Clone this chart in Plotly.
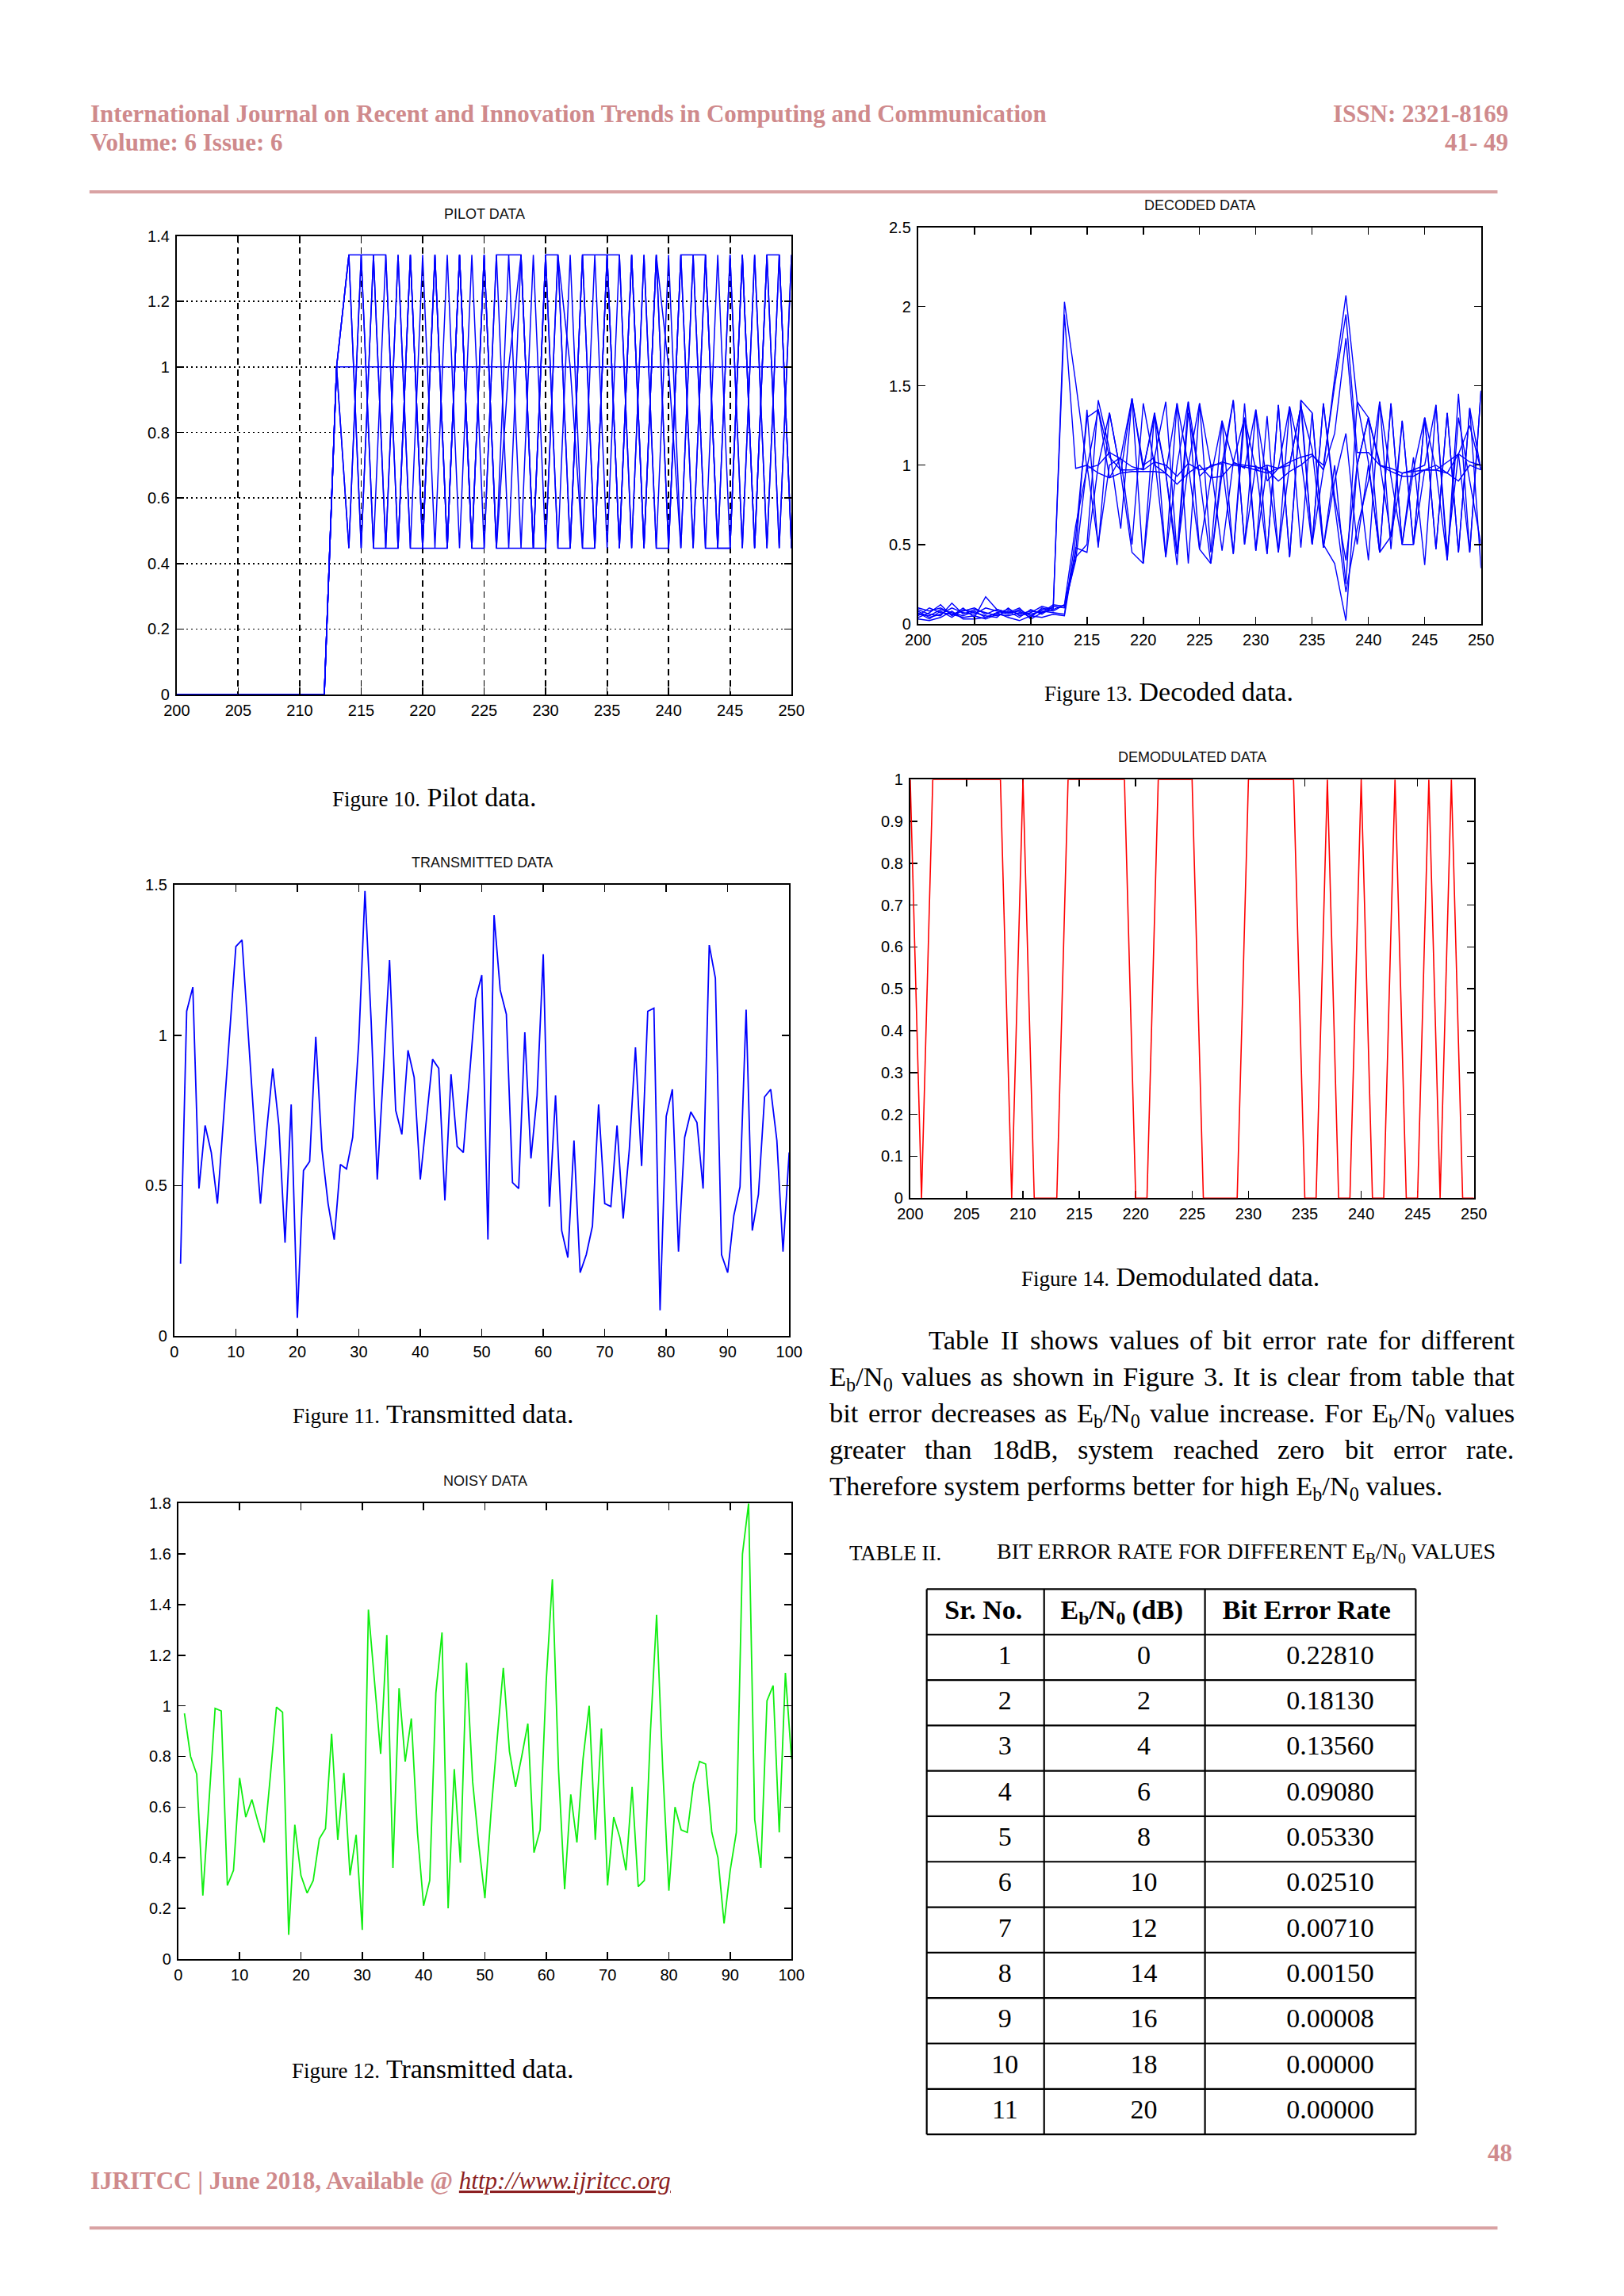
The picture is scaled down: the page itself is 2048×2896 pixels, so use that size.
import plotly.graph_objects as go

# page geometry (reference pixels); the browser adds an 8px body margin
PAGE_W, PAGE_H = 2048, 2896
OFF = 8
FW, FH = PAGE_W - 2 * OFF, PAGE_H - 2 * OFF
# small empirical correction between intended and photographed positions
SX, DX, DY = 1.0083, -15.6, -9.3

SERIF = "Liberation Serif, Times New Roman, serif"
SANS = "Liberation Sans, Arial, Helvetica, sans-serif"
PINK = "#cf8a8c"
URLRED = "#8c1f22"

# ---------------- chart data ----------------
PH, PL, PM = 1.342, 0.447, 1.0   # pilot amplitude levels

pilot_x = list(range(200, 251))
pilot_a = [0, 0, 0, 0, 0, 0, 0, 0, 0, 0, 0, 0, 0, PM,
           PH, PH, PH, PH, PL, PH, PL, PH, PL, PH,
           PL, PH, PL, PH, PL, PH, PL, PH, PL, PH,
           PH, PH, PH, PL, PH, PL, PH, PL, PH, PL,
           PH, PL, PH, PL, PH, PL, PH]
pilot_b = [0, 0, 0, 0, 0, 0, 0, 0, 0, 0, 0, 0, 0, PM,
           PH, PL, PH, PL, PH, PL, PH, PL, PH, PL,
           PH, PL, PH, PH, PH, PL, PH, PL, PH, PL,
           PH, PL, PH, PL, PH, PL, PL, PH, PH, PH,
           PL, PH, PL, PH, PL, PH, PL]
pilot_c = [0, 0, 0, 0, 0, 0, 0, 0, 0, 0, 0, 0, 0, PM,
           PL, PH, PL, PH, PL, PH, PL, PH, PL, PH,
           PL, PH, PL, PM, PH, PL, PH, PH, PL, PH,
           PL, PH, PL, PH, PL, PH, PL, PH, PL, PH,
           PL, PL, PH, PL, PH, PH, PL]
pilot_d = [0, 0, 0, 0, 0, 0, 0, 0, 0, 0, 0, 0, 0, PM,
           PL, PH, PL, PL, PL, PH, PL, PH, PL, PH,
           PL, PL, PH, PL, PH, PL, PH, PL, PL, PH,
           PL, PH, PL, PH, PL, PH, PM, PL, PH, PL,
           PL, PL, PH, PL, PH, PL, PH]
pilot_e = [0, 0, 0, 0, 0, 0, 0, 0, 0, 0, 0, 0, 0, PM,
           PH, PL, PH, PL, PH, PL, PL, PL, PL, PH,
           PL, PH, PL, PL, PL, PL, PL, PH, PM, PL,
           PL, PH, PL, PH, PL, PH, PL, PH, PL, PH,
           PL, PH, PL, PH, PL, PH, PL]
pilot_f = [0, 0, 0, 0, 0, 0, 0, 0, 0, 0, 0, 0, 0,
           PM, PM, PM, PM, PM, PM, PM, PM, PM, PM, PM, PM, PM,
           PM, PM, PM, PM, PM, PM, PM, PM, PM, PM, PM, PM, PM,
           PM, PM, PM, PM, PM, PM, PM, PM, PM, PM, PM, PM, PM]
pilot_series = [pilot_a, pilot_b, pilot_c, pilot_d, pilot_e, pilot_f]

decoded_x = list(range(200, 251))
dec_1 = [.06, .05, .09, .07, .05, .08, .04, .07, .09, .06, .08, .07, .09, 2.03,
         1.52, 0.98, 1.0, 1.08, 1.04, 0.99, 0.97, 1.02, 1.0, 0.93, 1.01, 0.97, 0.99,
         1.02, 1.0, 0.99, 0.97, 0.95, 0.98, 1.02, 1.05, 1.07, 0.97, 1.55, 2.07, 1.40,
         1.30, 1.0, 0.98, 0.95, 0.96, 0.97, 0.97, 0.95, 0.90, 1.0, 0.97]
dec_2 = [.08, .04, .06, .10, .07, .06, .10, .08, .06, .09, .05, .09, .10, 1.95,
         0.98, 1.0, 0.95, 0.92, 0.95, 0.96, 0.96, 0.96, 0.95, 0.88, 0.95, 1.0, 0.92,
         0.93, 1.01, 1.0, 0.99, 0.97, 0.90, 0.96, 1.0, 1.06, 1.0, 1.5, 1.95, 1.08,
         1.08, 1.0, 0.96, 0.93, 0.93, 0.97, 0.97, 1.02, 1.07, 1.02, 1.0]
dec_3 = [.04, .07, .12, .05, .10, .04, .17, .09, .07, .08, .04, .10, .08, 0.12,
         0.45, 1.35, 0.48, 1.33, 0.95, 0.45, 0.38, 1.33, 0.42, 1.39, 0.38, 1.39, 0.45,
         1.28, 0.44, 1.39, 0.46, 1.31, 0.45, 1.37, 0.48, 1.33, 0.5, 0.38, 0.02, 1.0,
         1.3, 0.45, 1.39, 0.5, 1.05, 0.37, 1.38, 0.4, 1.45, 0.45, 1.47]
dec_4 = [.09, .06, .05, .13, .06, .09, .07, .05, .08, .04, .09, .06, .11, 0.10,
         0.42, 0.5, 1.41, 1.1, 0.6, 1.42, 1.0, 1.05, 1.4, 0.44, 1.4, 0.47, 0.38,
         0.95, 1.41, 0.5, 1.35, 0.44, 1.38, 0.42, 1.41, 0.5, 1.39, 0.75, 0.2, 0.6,
         0.9, 1.4, 0.47, 1.28, 0.5, 1.3, 0.47, 1.33, 0.45, 1.36, 0.35]
dec_5 = [.05, .10, .07, .06, .04, .05, .03, .06, .05, .07, .06, .08, .07, 0.06,
         0.55, 1.3, 1.35, 0.92, 1.05, 0.5, 1.39, 1.0, 0.95, 0.37, 1.33, 0.93, 1.0,
         1.01, 0.44, 1.3, 0.97, 1.0, 0.98, 1.0, 1.37, 1.1, 0.48, 1.0, 0.25, 1.4,
         1.02, 0.45, 0.55, 0.95, 0.97, 1.0, 1.38, 0.45, 1.07, 1.25, 0.97]
dec_6 = [.07, .03, .08, .04, .09, .07, .05, .04, .10, .05, .07, .11, .09, 0.12,
         0.62, 0.98, 1.35, 1.05, 0.97, 0.97, 0.98, 1.3, 0.95, 1.39, 1.0, 0.47, 0.92,
         1.28, 1.02, 0.98, 1.35, 0.90, 0.98, 1.37, 1.05, 0.5, 0.97, 1.2, 1.8, 1.0,
         0.4, 1.4, 0.93, 0.5, 0.97, 1.3, 0.97, 0.4, 1.3, 0.9, 0.5]
dec_7 = [.03, .02, .04, .08, .03, .03, .04, .07, .04, .02, .05, .04, .06, 0.05,
         0.48, 0.45, 1.0, 1.33, 0.95, 1.42, 0.38, 1.05, 0.42, 1.0, 1.4, 0.93, 0.38,
         1.01, 1.41, 0.5, 1.0, 0.44, 1.38, 0.42, 1.41, 1.33, 0.48, 0.9, 1.2, 0.5,
         1.0, 0.45, 1.39, 0.5, 0.5, 1.3, 0.47, 1.33, 0.45, 1.36, 0.97]
dec_8 = [.10, .08, .10, .06, .08, .10, .06, .09, .07, .10, .03, .07, .12, 0.11,
         0.40, 1.0, 0.5, 1.0, 1.05, 1.42, 0.97, 1.33, 0.95, 0.44, 1.0, 1.39, 1.0,
         0.46, 1.02, 1.3, 0.46, 1.0, 0.45, 1.0, 1.37, 0.5, 1.39, 0.8, 0.4, 1.0,
         1.3, 1.02, 0.55, 1.28, 0.5, 0.97, 1.0, 0.95, 1.07, 0.45, 1.47]
decoded_series = [dec_1, dec_2, dec_3, dec_4, dec_5, dec_6, dec_7, dec_8]

demod_x = list(range(200, 251))
demod_y = [1, 0, 1, 1, 1, 1, 1, 1, 1, 0, 1, 0, 0, 0, 1, 1, 1, 1, 1, 1,
           0, 0, 1, 1, 1, 1, 0, 0, 0, 0, 1, 1, 1, 1, 1, 0, 0, 1, 0, 0,
           1, 0, 0, 1, 0, 0, 1, 0, 1, 0, 0]

trans_x = list(range(1, 101))
trans_y = [0.24, 1.08, 1.16, 0.49, 0.70, 0.61, 0.44, 0.73, 1.02, 1.295,
           1.317, 1.0, 0.70, 0.44, 0.68, 0.89, 0.70, 0.31, 0.77, 0.06,
           0.55, 0.58, 0.995, 0.62, 0.44, 0.32, 0.57, 0.555, 0.66, 0.98,
           1.48, 1.05, 0.52, 0.88, 1.25, 0.75, 0.67, 0.95, 0.86, 0.52,
           0.72, 0.92, 0.89, 0.45, 0.87, 0.63, 0.61, 0.87, 1.12, 1.2,
           0.32, 1.40, 1.15, 1.07, 0.51, 0.49, 1.01, 0.59, 0.8, 1.27,
           0.43, 0.80, 0.35, 0.26, 0.65, 0.21, 0.27, 0.365, 0.77, 0.44,
           0.43, 0.70, 0.39, 0.62, 0.96, 0.565, 1.08, 1.09, 0.085, 0.73,
           0.82, 0.28, 0.66, 0.745, 0.71, 0.49, 1.30, 1.19, 0.27, 0.21,
           0.40, 0.495, 1.085, 0.35, 0.47, 0.795, 0.82, 0.65, 0.28, 0.61]

noisy_x = list(range(1, 101))
noisy_y = [0.97, 0.80, 0.73, 0.25, 0.62, 0.99, 0.98, 0.29, 0.35, 0.715,
           0.56, 0.63, 0.54, 0.46, 0.72, 0.995, 0.975, 0.095, 0.53, 0.33,
           0.26, 0.31, 0.475, 0.515, 0.89, 0.47, 0.735, 0.33, 0.49, 0.115,
           1.38, 1.1, 0.81, 1.28, 0.36, 1.07, 0.78, 0.95, 0.5, 0.21,
           0.31, 1.05, 1.29, 0.20, 0.75, 0.38, 1.17, 0.7, 0.45, 0.24,
           0.58, 0.87, 1.15, 0.82, 0.68, 0.80, 0.93, 0.42, 0.51, 1.1,
           1.50, 0.75, 0.275, 0.65, 0.46, 0.79, 1.00, 0.47, 0.91, 0.29,
           0.56, 0.48, 0.35, 0.68, 0.286, 0.31, 0.9, 1.36, 0.75, 0.27,
           0.60, 0.51, 0.50, 0.69, 0.78, 0.77, 0.50, 0.40, 0.14, 0.35,
           0.5, 1.60, 1.80, 0.55, 0.36, 1.02, 1.08, 0.50, 1.13, 0.79]

# ---------------- table data ----------------
tbl_headers = ["<b>Sr. No.</b>", "<b>E<sub>b</sub>/N<sub>0</sub> (dB)</b>", "<b>Bit Error Rate</b>"]
sr_no = [1, 2, 3, 4, 5, 6, 7, 8, 9, 10, 11]
ebn0_db = [0, 2, 4, 6, 8, 10, 12, 14, 16, 18, 20]
ber = ["0.22810", "0.18130", "0.13560", "0.09080", "0.05330", "0.02510",
       "0.00710", "0.00150", "0.00008", "0.00000", "0.00000"]

# ---------------- layout helpers ----------------
def fx(X):
    return (SX * X + DX - OFF) / FW


def fy(Y):
    return 1 - (Y + DY - OFF) / FH


def dom_x(a, b):
    return [fx(a), fx(b)]


def dom_y(top, bottom):
    return [fy(bottom), fy(top)]


def frame_axis(domain, rng, dtick, anchor, **kw):
    d = dict(domain=domain, range=rng, dtick=dtick, tick0=rng[0], anchor=anchor,
             showline=True, linecolor="black", linewidth=2, mirror="ticks",
             ticks="inside", ticklen=9, tickwidth=1.5, tickcolor="black",
             showgrid=False, zeroline=False, fixedrange=True,
             tickfont=dict(family=SANS, size=20, color="black"))
    d.update(kw)
    return d


annotations = []


def ann(text, x, y, size, color="black", xanchor="left", yanchor="middle", family=SERIF):
    annotations.append(dict(text=text, x=fx(x), y=fy(y), xref="paper", yref="paper",
                            xanchor=xanchor, yanchor=yanchor, showarrow=False, borderpad=0,
                            font=dict(family=family, size=size, color=color)))


BOX = {
    "pilot": (223, 1005, 298, 881),
    "decoded": (1166, 1882, 287, 791),
    "demod": (1156, 1873, 989, 1521),
    "trans": (220, 1002, 1123, 1696),
    "noisy": (225, 1005, 1909, 2488),
}

axes = {}


def add_axes(n, box, xr, xd, yr, yd, xkw=None, ykw=None):
    s = "" if n == 1 else str(n)
    axes["xaxis" + s] = frame_axis(dom_x(box[0], box[1]), xr, xd, "y" + s,
                                   ticklabelstandoff=1, **(xkw or {}))
    axes["yaxis" + s] = frame_axis(dom_y(box[2], box[3]), yr, yd, "x" + s,
                                   ticklabelstandoff=3, **(ykw or {}))


add_axes(1, BOX["pilot"], [200, 250], 5, [0, 1.4], 0.2,
         xkw=dict(showgrid=True, gridcolor="black", gridwidth=1.9, griddash="8px,6px"),
         ykw=dict(showgrid=True, gridcolor="black", gridwidth=1.9, griddash="2px,4px"))
add_axes(2, BOX["decoded"], [200, 250], 5, [0, 2.5], 0.5)
add_axes(3, BOX["demod"], [200, 250], 5, [0, 1], 0.1,
         xkw=dict(layer="below traces"), ykw=dict(layer="below traces"))
add_axes(4, BOX["trans"], [0, 100], 10, [0, 1.5], 0.5)
add_axes(5, BOX["noisy"], [0, 100], 10, [0, 1.8], 0.2)

# table axes: x in column-width units (0..1), y in rows (0..12)
TX0, TX1, TY0, TY1 = 1177, 1799, 2018, 2711
pad_x, pad_y = 0.02, 0.2
tw, rh = TX1 - TX0, (TY1 - TY0) / 12
axes["xaxis6"] = dict(domain=dom_x(TX0 - pad_x * tw, TX1 + pad_x * tw), range=[-pad_x, 1 + pad_x],
                      anchor="y6", visible=False, fixedrange=True)
axes["yaxis6"] = dict(domain=dom_y(TY0 - pad_y * rh, TY1 + pad_y * rh), range=[12 + pad_y, -pad_y],
                      anchor="x6", visible=False, fixedrange=True)
col_edges = [0, 0.24, 0.569, 1]
header_xpos = [0.116, 0.399, 0.777]
body_xpos = [0.160, 0.444, 0.825]

# ---------------- traces ----------------
fig = go.Figure()
for s in pilot_series:
    fig.add_trace(go.Scatter(x=pilot_x, y=s, mode="lines", line=dict(color="#0000ff", width=1.5),
                             xaxis="x", yaxis="y", hoverinfo="skip", showlegend=False))
for s in decoded_series:
    fig.add_trace(go.Scatter(x=decoded_x, y=s, mode="lines", line=dict(color="#0000ff", width=1.4),
                             xaxis="x2", yaxis="y2", hoverinfo="skip", showlegend=False))
fig.add_trace(go.Scatter(x=demod_x, y=demod_y, mode="lines", line=dict(color="#ff0000", width=1.6),
                         xaxis="x3", yaxis="y3", hoverinfo="skip", showlegend=False))
fig.add_trace(go.Scatter(x=trans_x, y=trans_y, mode="lines", line=dict(color="#0000ff", width=1.8),
                         xaxis="x4", yaxis="y4", hoverinfo="skip", showlegend=False))
fig.add_trace(go.Scatter(x=noisy_x, y=noisy_y, mode="lines", line=dict(color="#11ee11", width=1.8),
                         xaxis="x5", yaxis="y5", hoverinfo="skip", showlegend=False))

# table text
fig.add_trace(go.Scatter(x=header_xpos, y=[0.5, 0.5, 0.5], text=tbl_headers, mode="text",
                         textposition="middle center",
                         textfont=dict(family=SERIF, size=34, color="black"),
                         xaxis="x6", yaxis="y6", hoverinfo="skip", showlegend=False))
row_centers = [i + 1.5 for i in range(len(sr_no))]
for ci, col in enumerate([[str(v) for v in sr_no], [str(v) for v in ebn0_db], ber]):
    fig.add_trace(go.Scatter(x=[body_xpos[ci]] * len(col), y=row_centers, text=col, mode="text",
                             textposition="middle center",
                             textfont=dict(family=SERIF, size=34, color="black"),
                             xaxis="x6", yaxis="y6", hoverinfo="skip", showlegend=False))

shapes = []
for xe in col_edges:
    shapes.append(dict(type="line", xref="x6", yref="y6", x0=xe, x1=xe, y0=0, y1=12,
                       line=dict(color="black", width=2.2)))
for r in range(13):
    shapes.append(dict(type="line", xref="x6", yref="y6", x0=0, x1=1, y0=r, y1=r,
                       line=dict(color="black", width=2.2)))

# header / footer rules
for yy in (242, 2830):
    shapes.append(dict(type="line", xref="paper", yref="paper", x0=fx(112), x1=fx(1903),
                       y0=fy(yy), y1=fy(yy), line=dict(color="#d9a2a3", width=4)))

# ---------------- texts ----------------
ann("<b>International Journal on Recent and Innovation Trends in Computing and Communication</b>",
    112, 143, 31, PINK)
ann("<b>Volume: 6 Issue: 6</b>", 112, 179, 31, PINK)
ann("<b>ISSN: 2321-8169</b>", 1918, 143, 31, PINK, xanchor="right")
ann("<b>41- 49</b>", 1918, 179, 31, PINK, xanchor="right")
ann("<b>48</b>", 1923, 2735, 31, PINK, xanchor="right")
ann("<b>IJRITCC | June 2018, Available @</b> <span style=\"color:%s\"><i><u>http://www.ijritcc.org</u></i></span>" % URLRED,
    112, 2770, 31, PINK)

titles = {"pilot": "PILOT DATA", "decoded": "DECODED DATA", "demod": "DEMODULATED DATA",
          "trans": "TRANSMITTED DATA", "noisy": "NOISY DATA"}
for k, t in titles.items():
    b = BOX[k]
    ann(t, (b[0] + b[1]) / 2, b[2] - 28, 18, "#111111", xanchor="center", family=SANS)

captions = [("Figure 10.", "Pilot data.", 550, 1011),
            ("Figure 13.", "Decoded data.", 1485, 877),
            ("Figure 14.", "Demodulated data.", 1487, 1621),
            ("Figure 11.", "Transmitted data.", 549, 1795),
            ("Figure 12.", "Transmitted data.", 549, 2628)]
for small, big, cx, cy in captions:
    ann('<span style="font-size:27px">%s</span> %s' % (small, big), cx, cy, 34, "black", xanchor="center")

# ---- justified paragraph (Times metrics, Liberation Serif is metric compatible) ----
TIMES_W = {" ": 250, ".": 250, ",": 250, "/": 278, "(": 333, ")": 333, "-": 333, ":": 278,
           "A": 722, "B": 667, "C": 667, "D": 722, "E": 611, "F": 556, "G": 722, "H": 722,
           "I": 333, "J": 389, "K": 722, "L": 611, "M": 889, "N": 722, "O": 722, "P": 556,
           "Q": 722, "R": 667, "S": 556, "T": 611, "U": 722, "V": 722, "W": 944, "X": 722,
           "Y": 722, "Z": 611, "a": 444, "b": 500, "c": 444, "d": 500, "e": 444, "f": 333,
           "g": 500, "h": 500, "i": 278, "j": 278, "k": 500, "l": 278, "m": 778, "n": 500,
           "o": 500, "p": 500, "q": 500, "r": 333, "s": 389, "t": 278, "u": 500, "v": 500,
           "w": 722, "x": 500, "y": 500, "z": 444}


def measure(s, size):
    w, scale, i = 0.0, 1.0, 0
    while i < len(s):
        if s.startswith("<sub>", i):
            scale, i = 0.7, i + 5
            continue
        if s.startswith("</sub>", i):
            scale, i = 1.0, i + 6
            continue
        w += TIMES_W.get(s[i], 500) * scale
        i += 1
    return w * size / 1000.0


EBN0 = "E<sub>b</sub>/N<sub>0</sub>"
PARA_SIZE = 34.5
RIGHT = 1923
para = [
    (1699, 1178, ["Table", "II", "shows", "values", "of", "bit", "error", "rate", "for", "different"]),
    (1745, 1052, [EBN0, "values", "as", "shown", "in", "Figure", "3.", "It", "is", "clear", "from",
                  "table", "that"]),
    (1792, 1052, ["bit", "error", "decreases", "as", EBN0, "value", "increase.", "For", EBN0, "values"]),
    (1838, 1052, ["greater", "than", "18dB,", "system", "reached", "zero", "bit", "error", "rate."]),
]
for yc, x0, words in para:
    widths = [measure(w, PARA_SIZE) for w in words]
    gap = (RIGHT - x0 - sum(widths)) / (len(words) - 1)
    xcur = x0
    for w, wd in zip(words, widths):
        ann(w, xcur, yc - 18, PARA_SIZE, "black", xanchor="left", yanchor="top")
        xcur += wd + gap
ann("Therefore system performs better for high %s values." % EBN0, 1052, 1884 - 18, PARA_SIZE,
    "black", xanchor="left", yanchor="top")

ann("TABLE II.", 1077, 1972, 27, "black")
ann("BIT ERROR RATE FOR DIFFERENT E<sub>B</sub>/N<sub>0</sub> VALUES", 1265, 1972, 28, "black")

fig.update_layout(width=FW, height=FH, margin=dict(l=0, r=0, t=0, b=0, pad=0),
                  paper_bgcolor="white", plot_bgcolor="white", showlegend=False,
                  annotations=annotations, shapes=shapes, **axes)

fig.write_html("out.html", config={"displayModeBar": False, "staticPlot": True})
